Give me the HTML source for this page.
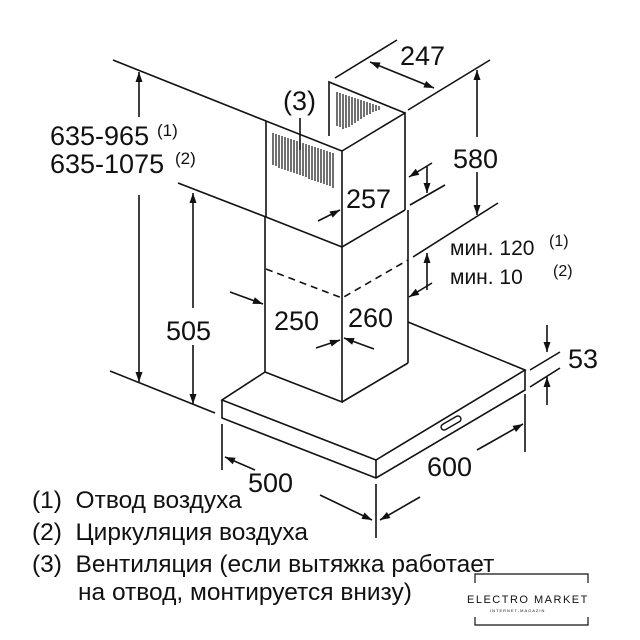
<!DOCTYPE html>
<html><head><meta charset="utf-8"><style>
html,body{margin:0;padding:0;background:#fff;}
svg{display:block;}
text{font-family:"Liberation Sans",Arial,sans-serif;fill:#111;}
</style></head><body>
<svg width="640" height="640" viewBox="0 0 640 640" xmlns="http://www.w3.org/2000/svg">
<defs>
<marker id="b" viewBox="0 0 10 10" refX="10" refY="5" markerWidth="14" markerHeight="10" orient="auto-start-reverse" markerUnits="userSpaceOnUse"><path d="M0,1.5 L10,5 L0,8.5 z" fill="#111"/></marker>
</defs>
<g stroke="#111" stroke-width="1.6" fill="none">
<path d="M265,372 L222,400 L376,460 L525,370 L408,322"/>
<path d="M222,400 L222,418 L376,478 L525,390 L525,370"/>
<path d="M376,460 L376,478"/>
<path d="M265,217 L265,372"/>
<path d="M342,247 L342,402 L265,372"/>
<path d="M342,402 L408,363"/>
<path d="M408,210 L408,363"/>
<path d="M266,217 L342,247 L405,210"/>
<path d="M266,269 L342,298 L408,260" stroke-dasharray="7,5"/>
<path d="M266,217 L266,121 L342,151 L342,247"/>
<path d="M342,151 L405,113 L405,210"/>
<path d="M329,136 L329,82 L405,113"/>
<path d="M113,60 L266,121"/>
<path d="M178,183 L266,217"/>
<path d="M110,371 L215,413"/>
<path d="M335,78 L397,40"/>
<path d="M408,110 L490,60"/>
<path d="M410,205 L445,185"/>
<path d="M413,257 L498,203"/>
<path d="M530,370 L560,352"/>
<path d="M530,387 L560,368"/>
<path d="M222,424 L222,470"/>
<path d="M376,484 L376,538"/>
<path d="M525,394 L525,452"/>
<path d="M139,117 L139,72" marker-end="url(#b)"/>
<path d="M139,195 L139,382" marker-end="url(#b)"/>
<path d="M193,308 L193,193" marker-end="url(#b)"/>
<path d="M193,345 L193,404" marker-end="url(#b)"/>
<path d="M370,62 L434,88" marker-start="url(#b)" marker-end="url(#b)"/>
<path d="M477,137 L477,70" marker-end="url(#b)"/>
<path d="M477,172 L477,215" marker-end="url(#b)"/>
<path d="M432,163 L409,177" marker-end="url(#b)"/>
<path d="M427,166 L427,193" marker-end="url(#b)"/>
<path d="M427,290 L427,253" marker-end="url(#b)"/>
<path d="M432,283 L409,297" marker-end="url(#b)"/>
<path d="M318,221 L340,210" marker-end="url(#b)"/>
<path d="M230,292 L263,304" marker-end="url(#b)"/>
<path d="M316,348 L340,340" marker-end="url(#b)"/>
<path d="M374,349 L344,338" marker-end="url(#b)"/>
<path d="M547,325 L547,352" marker-end="url(#b)"/>
<path d="M547,405 L547,377" marker-end="url(#b)"/>
<path d="M255,470 L225,457" marker-end="url(#b)"/>
<path d="M320,495 L372,520" marker-end="url(#b)"/>
<path d="M420,497 L380,520" marker-end="url(#b)"/>
<path d="M477,450 L523,424" marker-end="url(#b)"/>
<path d="M300,118 L300,150"/>
</g>
<g stroke="#111" stroke-width="1.2">
<path d="M273,133 L273,165 M276,134 L276,166 M279,135 L279,168 M282,136 L282,169 M285,137 L285,170 M288,138 L288,171 M291,139 L291,172 M294,140 L294,173 M297,141 L297,174 M300,142 L300,175 M303,143 L303,176 M306,144 L306,177 M309,145 L309,179 M312,146 L312,180 M315,147 L315,181 M318,148 L318,182 M321,149 L321,183 M324,150 L324,184 M327,151 L327,185 M330,152 L330,186 M333,153 L333,188"/>
<path d="M337,92 L337,126 M340,93 L340,127 M343,94 L343,129 M346,95 L346,128 M349,96 L349,127 M352,97 L352,125 M355,98 L355,123 M358,99 L358,121 M361,100 L361,119 M364,101 L364,117 M367,102 L367,115 M370,103 L370,114 M373,104 L373,112 M376,105 L376,111 M379,106 L379,110"/>
</g>
<rect x="440" y="420" width="22" height="6" rx="3" transform="rotate(-30 451 423)" fill="none" stroke="#111" stroke-width="1.4"/>
<g font-size="27">
<text x="50" y="145">635-965</text>
<text x="50" y="173">635-1075</text>
<text x="283" y="110">(3)</text>
<text x="400" y="65">247</text>
<text x="453" y="168">580</text>
<text x="346" y="208">257</text>
<text x="274" y="330">250</text>
<text x="348" y="327">260</text>
<text x="166" y="340">505</text>
<text x="568" y="368">53</text>
<text x="248" y="492">500</text>
<text x="427" y="476">600</text>
</g>
<text x="157" y="136" font-size="17">(1)</text>
<text x="175" y="164" font-size="17">(2)</text>
<text x="450" y="255" font-size="21">мин. 120</text>
<text x="450" y="284" font-size="21">мин. 10</text>
<text x="549" y="246" font-size="16">(1)</text>
<text x="553" y="276" font-size="16">(2)</text>
<g font-size="24.5">
<text x="32" y="508">(1)&#160; Отвод воздуха</text>
<text x="32" y="540">(2)&#160; Циркуляция воздуха</text>
<text x="32" y="572">(3)&#160; Вентиляция (если вытяжка работает</text>
<text x="78" y="600">на отвод, монтируется внизу)</text>
</g>
<g stroke="#111" stroke-width="1.2" fill="none">
<path d="M475,583 L475,574 L588,574 L588,583"/>
<path d="M475,617 L475,625 L588,625 L588,617"/>
</g>
<text x="467" y="603" font-size="11" letter-spacing="1.5">ELECTRO MARKET</text>
<text x="490" y="612" font-size="4" letter-spacing="1">INTERNET-MAGAZIN</text>
</svg>
</body></html>
